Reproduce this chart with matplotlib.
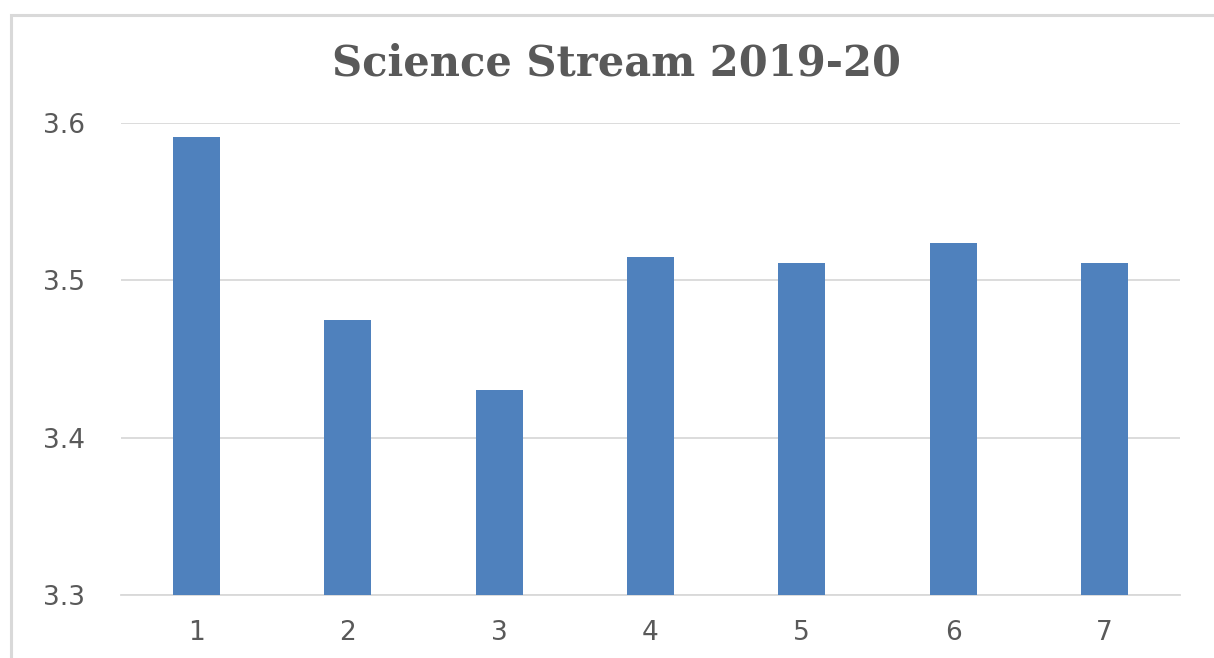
import matplotlib
matplotlib.use('Agg')
import matplotlib.pyplot as plt
from matplotlib.patches import Rectangle

# data
categories = ['1', '2', '3', '4', '5', '6', '7']
values = [3.591, 3.475, 3.430, 3.515, 3.511, 3.524, 3.511]
y_ticks = [3.3, 3.4, 3.5, 3.6]

W, H = 1214, 658
fig = plt.figure(figsize=(W / 100, H / 100), dpi=100)

# chart frame (light grey border, open at right/bottom like the crop)
frame = Rectangle((11 / W, -0.1), 1.2, 1 - 15 / H + 0.1, transform=fig.transFigure,
                  fill=False, edgecolor='#d9d9d9', linewidth=2.2)
fig.patches.append(frame)

ax = fig.add_axes([121 / W, (H - 595) / H, (1180 - 121) / W, (595 - 123) / H])
x = range(len(categories))
ax.bar(x, values, width=0.31, color='#4f81bd', zorder=3)

ax.set_xlim(-0.5, len(categories) - 0.5)
ax.set_ylim(3.3, 3.6)
ax.set_yticks(y_ticks)
ax.set_yticklabels(['%.1f' % v for v in y_ticks])
ax.set_xticks(list(x))
ax.set_xticklabels(categories)

ax.grid(axis='y', color='#d9d9d9', linewidth=1.3, zorder=0)
for s in ['top', 'right', 'left']:
    ax.spines[s].set_visible(False)
ax.spines['bottom'].set_color('#d9d9d9')
ax.spines['bottom'].set_linewidth(1.3)
ax.tick_params(axis='both', length=0, labelsize=19, labelcolor='#595959')
ax.tick_params(axis='y', pad=26)
ax.tick_params(axis='x', pad=18)

fig.text(617 / W, 1 - 63 / H, 'Science Stream 2019-20', ha='center', va='center',
         fontsize=30, fontweight='bold', family='DejaVu Serif', color='#595959')

fig.savefig('out.png', dpi=100)
